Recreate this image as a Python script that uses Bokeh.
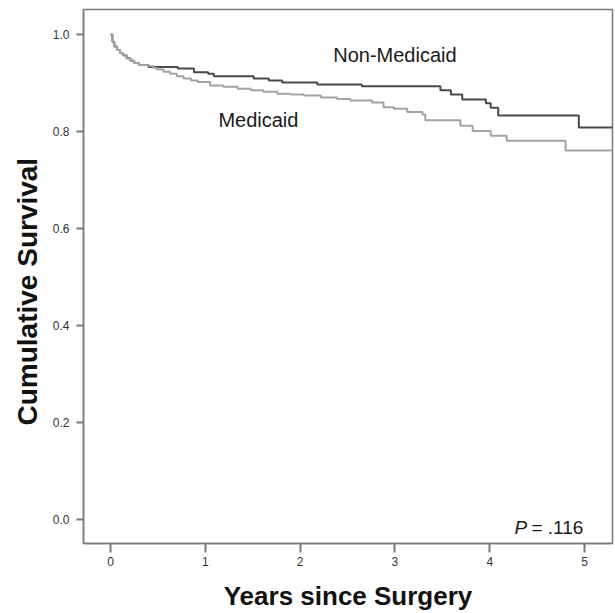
import math
from bokeh.plotting import figure
from bokeh.models import Label, FixedTicker, Range1d, Title, NumeralTickFormatter
from bokeh.embed import file_html
from bokeh.resources import INLINE

# Kaplan-Meier step data (years since surgery, cumulative survival)
t_nonmedicaid = [0, 0.02, 0.04, 0.07, 0.10, 0.13, 0.17, 0.21, 0.25, 0.30, 0.40, 0.71,
                 0.88, 1.03, 1.09, 1.51, 1.67, 1.81, 2.18, 2.65, 3.48, 3.59, 3.71,
                 3.96, 4.01, 4.09, 4.94, 5.30]
s_nonmedicaid = [1.0, 0.985, 0.975, 0.968, 0.962, 0.957, 0.951, 0.946, 0.941, 0.937, 0.933, 0.930,
                 0.922, 0.919, 0.914, 0.909, 0.905, 0.901, 0.897, 0.893, 0.885, 0.876, 0.866,
                 0.858, 0.849, 0.833, 0.808, 0.808]

t_medicaid = [0, 0.02, 0.04, 0.07, 0.10, 0.13, 0.17, 0.21, 0.25, 0.30, 0.39, 0.45, 0.49,
              0.56, 0.63, 0.70, 0.77, 0.85, 0.92, 1.05, 1.19, 1.34, 1.48, 1.61, 1.76,
              1.90, 2.04, 2.22, 2.39, 2.53, 2.76, 2.88, 2.99, 3.13, 3.29, 3.32, 3.69,
              3.82, 4.01, 4.18, 4.80, 5.30]
s_medicaid = [1.0, 0.985, 0.975, 0.968, 0.962, 0.957, 0.951, 0.946, 0.941, 0.937, 0.935, 0.931, 0.928,
              0.923, 0.919, 0.914, 0.909, 0.905, 0.902, 0.895, 0.892, 0.888, 0.885, 0.882, 0.878,
              0.876, 0.874, 0.870, 0.867, 0.864, 0.860, 0.850, 0.847, 0.840, 0.835, 0.823, 0.812,
              0.801, 0.791, 0.781, 0.761, 0.761]

x_ticks = [0, 1, 2, 3, 4, 5]
y_ticks = [0.0, 0.2, 0.4, 0.6, 0.8, 1.0]

FONT = "Liberation Sans"

p = figure(width=615, height=613, output_backend="svg", toolbar_location=None,
           x_range=Range1d(-0.285, 5.295), y_range=Range1d(-0.0495, 1.0515),
           min_border_left=83, min_border_right=3, min_border_top=9, min_border_bottom=70)

p.background_fill_color = "white"
p.border_fill_color = "white"
p.outline_line_color = "#7a7a7a"
p.outline_line_width = 1.5
p.xgrid.visible = False
p.ygrid.visible = False

p.step(t_nonmedicaid, s_nonmedicaid, mode="after", line_color="#4a4a4a", line_width=2)
p.step(t_medicaid, s_medicaid, mode="after", line_color="#a3a3a3", line_width=2)

xa = p.xaxis[0]
xa.ticker = FixedTicker(ticks=x_ticks)
xa.minor_tick_line_color = None
xa.major_tick_in = 0
xa.major_tick_out = 9
xa.major_tick_line_color = "#7a7a7a"
xa.major_tick_line_width = 2
xa.axis_line_color = "#7a7a7a"
xa.axis_line_width = 1.5
xa.major_label_text_font = FONT
xa.major_label_text_font_size = "12px"
xa.major_label_text_color = "#333333"
xa.major_label_standoff = 4
xa.axis_label = "Years since Surgery"
xa.axis_label_text_font = FONT
xa.axis_label_text_font_size = "26px"
xa.axis_label_text_font_style = "bold"
xa.axis_label_text_color = "#111111"
xa.axis_label_standoff = 12

ya = p.yaxis[0]
ya.ticker = FixedTicker(ticks=y_ticks)
ya.formatter = NumeralTickFormatter(format="0.0")
ya.minor_tick_line_color = None
ya.major_tick_in = 0
ya.major_tick_out = 7
ya.major_tick_line_color = "#7a7a7a"
ya.major_tick_line_width = 2
ya.axis_line_color = "#7a7a7a"
ya.axis_line_width = 1.5
ya.major_label_text_font = FONT
ya.major_label_text_font_size = "12px"
ya.major_label_text_color = "#333333"
ya.major_label_standoff = 7

ytitle = Title(text="Cumulative Survival", align="left", offset=118,
               text_font=FONT, text_font_size="28px", text_font_style="bold",
               text_color="#111111", standoff=14)
p.add_layout(ytitle, "left")

p.add_layout(Label(x=3.0, y=0.957, text="Non-Medicaid", text_align="center",
                   text_baseline="middle", text_font=FONT, text_font_size="20px",
                   text_color="#1a1a1a"))
p.add_layout(Label(x=1.56, y=0.823, text="Medicaid", text_align="center",
                   text_baseline="middle", text_font=FONT, text_font_size="20px",
                   text_color="#1a1a1a"))
p.add_layout(Label(x=4.26, y=-0.016, text="P", text_align="left",
                   text_baseline="alphabetic", text_font=FONT, text_font_size="19px",
                   text_font_style="italic", text_color="#1a1a1a"))
p.add_layout(Label(x=4.44, y=-0.016, text="= .116", text_align="left",
                   text_baseline="alphabetic", text_font=FONT, text_font_size="19px",
                   text_color="#1a1a1a"))

open("out.html", "w").write(file_html(p, INLINE))
